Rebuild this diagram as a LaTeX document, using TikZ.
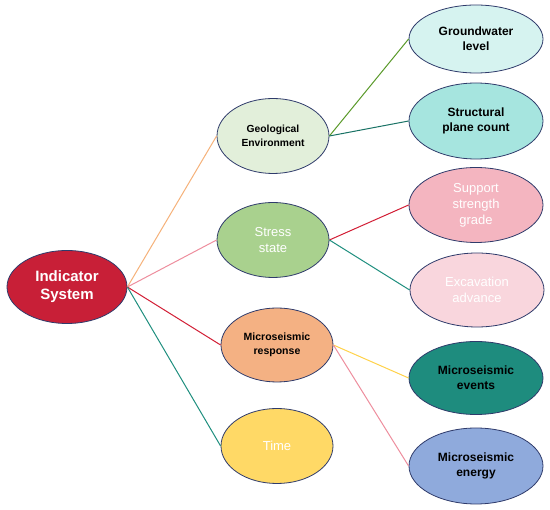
\documentclass[tikz,border=0pt]{standalone}
\usepackage{fontspec}
\setmainfont{Liberation Sans}
\usetikzlibrary{shapes,backgrounds}
\definecolor{rootred}{HTML}{C81F37}
\definecolor{geogreen}{HTML}{E2EFDA}
\definecolor{stressgreen}{HTML}{A9D18E}
\definecolor{microorange}{HTML}{F4B183}
\definecolor{timeyellow}{HTML}{FFD966}
\definecolor{watercyan}{HTML}{D6F3F0}
\definecolor{planecyan}{HTML}{A6E5DF}
\definecolor{supportpink}{HTML}{F4B5C0}
\definecolor{excavpink}{HTML}{F9D6DD}
\definecolor{eventteal}{HTML}{1E8C7E}
\definecolor{energyblue}{HTML}{8FAADC}
\definecolor{navyline}{HTML}{2F3B6B}
\definecolor{lineorange}{HTML}{F6B27A}
\definecolor{linepink}{HTML}{EE8E9E}
\definecolor{linered}{HTML}{D21E35}
\definecolor{lineteal}{HTML}{1F8F7F}
\definecolor{lineolive}{HTML}{5A9A2A}
\definecolor{lineyellow}{HTML}{FFD24A}

\begin{document}
\begin{tikzpicture}[x=1pt, y=-1pt, bubble/.style={ellipse, draw=navyline, line width=0.8pt, inner sep=0pt, align=center, minimum width=112pt, minimum height=75pt}, leaf/.style={bubble, minimum width=134pt}, link/.style={line width=1pt}]
      \fill[white] (0,0) rectangle (550,510);
      \useasboundingbox (0,0) rectangle (550,510);

      \node[fill=rootred, text=white, font=\bfseries\fontsize{15}{18}\selectfont] at (67,287) [bubble, minimum width=120pt, minimum height=73pt] (root) {Indicator\\System};

      \node[fill=geogreen, font=\bfseries\fontsize{10.3}{13.5}\selectfont] at (273,136) [bubble] (geo) {Geological\\Environment};
      \node[fill=stressgreen, text=white, font=\fontsize{13}{16}\selectfont] at (273,240) [bubble] (stress) {Stress\\state};
      \node[fill=microorange, font=\bfseries\fontsize{10.5}{14}\selectfont] at (277,345) [bubble, minimum height=74pt] (micro) {Microseismic\\response};
      \node[fill=timeyellow, text=white, font=\fontsize{13}{16}\selectfont] at (277,446) [bubble] (time) {Time};

      \node[fill=watercyan, font=\bfseries\fontsize{12}{15}\selectfont] at (476,39) [leaf, minimum height=68pt] (water) {Groundwater\\level};
      \node[fill=planecyan, font=\bfseries\fontsize{12}{15}\selectfont] at (476,121) [leaf, minimum height=76pt] (plane) {Structural\\plane count};
      \node[fill=supportpink, text=white, font=\fontsize{13}{16}\selectfont] at (476,205) [leaf] (support) {Support\\strength\\grade};
      \node[fill=excavpink, text=white, font=\fontsize{13}{16}\selectfont] at (477,290) [leaf, minimum height=74pt] (excav) {Excavation\\advance};
      \node[fill=eventteal, font=\bfseries\fontsize{12}{15}\selectfont] at (476,378) [leaf, minimum height=73pt] (events) {Microseismic\\events};
      \node[fill=energyblue, font=\bfseries\fontsize{12}{15}\selectfont] at (476,466) [leaf, minimum height=76pt] (energy) {Microseismic\\energy};

      \draw[link, lineorange] (root.east) -- (geo.west);
      \draw[link, linepink] (root.east) -- (stress.west);
      \draw[link, linered] (root.east) -- (micro.west);
      \draw[link, lineteal] (root.east) -- (time.west);

      \draw[link, lineolive] (geo.east) -- (water.west);
      \draw[link, lineteal!80!black] (geo.east) -- (plane.west);

      \draw[link, linered] (stress.east) -- (support.west);
      \draw[link, lineteal] (stress.east) -- (excav.west);

      \draw[link, lineyellow] (micro.east) -- (events.west);
      \draw[link, linepink] (micro.east) -- (energy.west);
    \end{tikzpicture}
\end{document}
